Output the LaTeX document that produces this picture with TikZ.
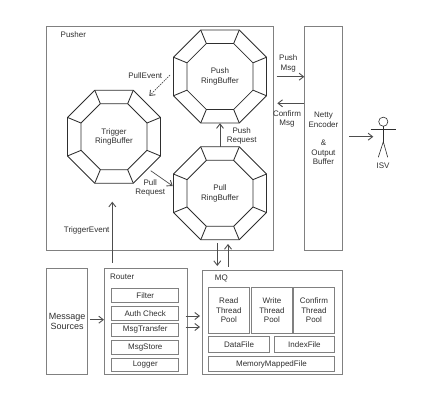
\documentclass[tikz,border=0pt]{standalone}
\usepackage{fontspec}
\setmainfont{Liberation Sans}
\usetikzlibrary{arrows.meta}
\definecolor{boxline}{HTML}{808080}
\definecolor{ink}{HTML}{2E2E2E}
\tikzset{
  lbl/.style={font=\fontsize{8}{9.5}\selectfont,text=ink,align=center,inner sep=0pt},
  container/.style={draw=boxline,line width=0.9pt,anchor=north west,inner sep=0pt},
  subbox/.style={container,font=\fontsize{8}{9.5}\selectfont,text=ink,align=center},
  bigbox/.style={subbox,font=\fontsize{9}{10}\selectfont},
  ring/.style={draw=ink,line width=0.85pt,line join=miter},
  octnode/.style={minimum size=93pt,inner sep=0pt,font=\fontsize{8}{9.5}\selectfont,text=ink,align=center},
  conn/.style={draw=ink!85!white,line width=0.7pt,-{Straight Barb[length=4.5pt,width=7pt,line width=0.9pt]}},
  actor/.style={draw=ink,line width=0.6pt}
}
\newcommand{\octa}[4]{%
  \node[octnode] (#1) at (#2,#3) {#4};
  \begin{scope}[shift={(#2,#3)}]
    \draw[ring] (22.5:50.33) -- (67.5:50.33) -- (112.5:50.33) -- (157.5:50.33) -- (202.5:50.33) -- (247.5:50.33) -- (292.5:50.33) -- (337.5:50.33) -- cycle;
    \draw[ring] (22.5:35.7) -- (67.5:35.7) -- (112.5:35.7) -- (157.5:35.7) -- (202.5:35.7) -- (247.5:35.7) -- (292.5:35.7) -- (337.5:35.7) -- cycle;
    \foreach \a in {22.5,67.5,...,337.5} \draw[ring] (\a:35.7) -- (\a:50.33);
  \end{scope}}
\newcommand{\pbox}[6]{\node[subbox,minimum width=#4pt,minimum height=#5pt] (#1) at (#2,#3) {#6};}
\begin{document}
\begin{tikzpicture}[x=1pt,y=-1pt]
\useasboundingbox (0,0) rectangle (426,401);
% containers
\pbox{pusher}{46}{26}{227}{224}{}
\pbox{netty}{304}{26}{38}{224}{Netty\\Encoder\\[9pt]\&\\Output\\Buffer}
\node[bigbox,minimum width=41.3pt,minimum height=106pt] (sources) at (46,268.3) {Message\\Sources};
\pbox{router}{104}{268.3}{82.7}{106}{}
\pbox{mq}{201.7}{270}{140}{104.3}{}
\node[lbl,anchor=west] (pusherlbl) at (60.5,34.7) {Pusher};
\node[lbl,anchor=west] (routerlbl) at (110,276.7) {Router};
\node[lbl,anchor=west] (mqlbl) at (214.7,278.7) {MQ};
% router parts
\pbox{filter}{111.3}{288.3}{67}{13.4}{Filter}
\pbox{auth}{111.3}{306.3}{67}{13.4}{Auth Check}
\pbox{transfer}{111.3}{322.7}{67}{13.4}{MsgTransfer}
\pbox{store}{111.3}{340.3}{67}{13.6}{MsgStore}
\pbox{logger}{111.3}{357.7}{67}{13.4}{Logger}
% mq parts
\pbox{readp}{208}{287}{40.7}{46}{Read\\Thread\\Pool}
\pbox{writep}{251.3}{287}{40.4}{46}{Write\\Thread\\Pool}
\pbox{confirmp}{293.3}{287}{40.4}{46}{Confirm\\Thread\\Pool}
\pbox{datafile}{208}{336}{61.3}{15.7}{DataFile}
\pbox{indexfile}{274}{336}{60}{15.7}{IndexFile}
\pbox{mmf}{208}{355.7}{126}{15.6}{MemoryMappedFile}
% ring buffers
\octa{pushrb}{220}{76.5}{Push\\RingBuffer}
\octa{triggerrb}{114}{136.7}{Trigger\\RingBuffer}
\octa{pullrb}{220}{193.3}{Pull\\RingBuffer}
% free connector ends
\coordinate (peA) at (170,75);
\coordinate (peB) at (149.3,96);
\coordinate (prA) at (150.7,170.7);
\coordinate (prB) at (172.7,186);
\coordinate (teA) at (112.3,262.7);
\coordinate (teB) at (112.3,201.7);
\coordinate (mqA) at (217.3,243);
\coordinate (mqB) at (217.3,266);
\coordinate (mqC) at (228,266.7);
\coordinate (mqD) at (228,244);
\coordinate (pmA) at (276.7,76.7);
\coordinate (pmB) at (304.3,76.7);
\coordinate (cmA) at (304,103.3);
\coordinate (cmB) at (277.3,103.3);
\coordinate (isvA) at (349.3,136.7);
\coordinate (isvB) at (373.3,136.7);
\coordinate (msA) at (90,319.7);
\coordinate (msB) at (104,319.7);
\coordinate (rmA) at (185.7,316);
\coordinate (rmB) at (200,316);
\coordinate (rmC) at (185.7,327);
\coordinate (rmD) at (200,327);
% connectors
\draw[conn,dash pattern=on 1.5pt off 1pt] (peA) -- (peB);
\draw[conn] (prA) -- (prB);
\draw[conn] (pullrb.north) -- (pushrb.south);
\draw[conn] (teA) -- (teB);
\draw[conn] (mqA) -- (mqB);
\draw[conn] (mqC) -- (mqD);
\draw[conn] (pmA) -- (pmB);
\draw[conn] (cmA) -- (cmB);
\draw[conn] (isvA) -- (isvB);
\draw[conn] (msA) -- (msB);
\draw[conn] (rmA) -- (rmB);
\draw[conn] (rmC) -- (rmD);
% connector labels
\node[lbl] (l1) at (145.3,76) {PullEvent};
\node[lbl] (l2) at (150.3,188) {Pull\\Request};
\node[lbl] (l3) at (241.7,135.7) {Push\\Request};
\node[lbl] (l4) at (86.7,230) {TriggerEvent};
\node[lbl] (l5) at (288.3,63.5) {Push\\Msg};
\node[lbl] (l6) at (287,119) {Confirm\\Msg};
% actor
\draw[actor] (383.3,121.7) circle (4.6);
\draw[actor] (383.3,126.3) -- (383.3,141.7);
\draw[actor] (370.7,129.3) -- (395.7,129.3);
\draw[actor] (378.3,157.3) -- (383.3,141.7) -- (387.7,157.3);
\node[lbl] (isv) at (383,166) {ISV};
\end{tikzpicture}
\end{document}
